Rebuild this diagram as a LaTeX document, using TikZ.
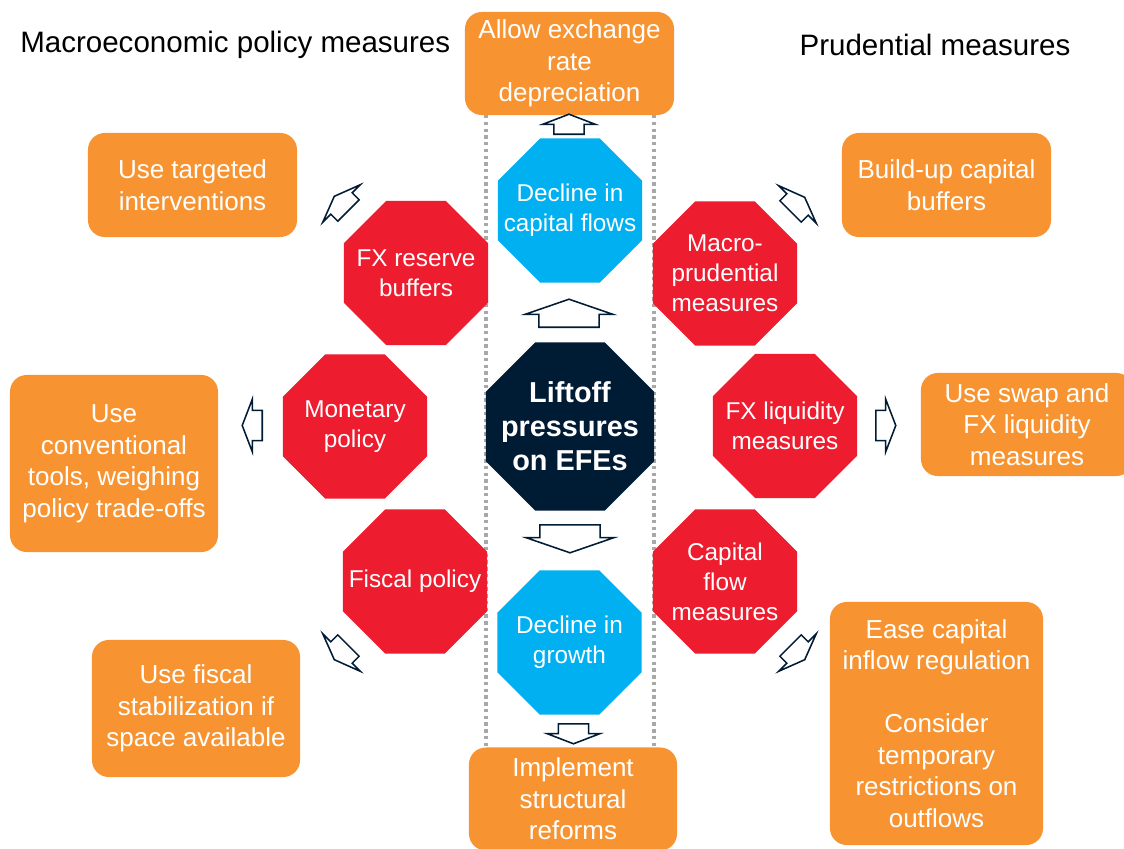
\documentclass[tikz,border=0pt]{standalone}
\usepackage{fontspec}
\setmainfont{Liberation Sans}
\usetikzlibrary{shapes.geometric,shapes.arrows}

\definecolor{imforange}{RGB}{247,148,49}
\definecolor{imfred}{RGB}{237,28,46}
\definecolor{imfblue}{RGB}{0,176,240}
\definecolor{imfnavy}{RGB}{0,27,52}
\definecolor{imfgray}{RGB}{168,168,168}

\newcommand{\boxfont}{\fontsize{18.5}{22.4}\selectfont}
\newcommand{\octfont}{\fontsize{17.3}{21.3}\selectfont}
\newcommand{\hubfont}{\fontsize{20.5}{24.2}\selectfont\bfseries}
\newcommand{\headfont}{\fontsize{21}{25}\selectfont}

\begin{document}
\begin{tikzpicture}[
  x=0.025cm, y=-0.025cm,
  octo/.style={regular polygon, regular polygon sides=8, minimum size=3.9cm,
               inner sep=0pt, outer sep=0pt},
  octlab/.style={text=white, align=center, inner sep=0pt, font=\octfont},
  redocto/.style={octo, fill=imfred},
  blueocto/.style={octo, fill=imfblue},
  actbox/.style={fill=imforange, rounded corners=0.42cm, text=white, align=center,
                 minimum width=5.2cm, minimum height=2.6cm, inner sep=0pt, font=\boxfont},
  arr/.style={single arrow, draw=imfnavy, fill=white, line width=1.1pt, anchor=tail,
              inner xsep=0pt, text height=0pt, text depth=0pt},
  smallarr/.style={arr, inner ysep=0.3125cm, minimum width=1.325cm,
                   minimum height=0.5cm, single arrow tip angle=138},
  bigarr/.style={arr, inner ysep=0.525cm, minimum width=2.2cm,
                 minimum height=0.7cm, single arrow tip angle=142},
  guide/.style={draw=imfgray, line width=2.4pt, dash pattern=on 2.4pt off 2.4pt}
]
  \path[use as bounding box, fill=white] (0,0) rectangle (1124,848);

  % dotted guides round the middle column
  \draw[guide] (486,115) -- (486,747);
  \draw[guide] (654,115) -- (654,747);

  % headings
  \node[anchor=west, inner sep=0pt, font=\headfont] (hmacro) at (20,45) {Macroeconomic policy measures};
  \node[inner sep=0pt, font=\headfont] (hprud) at (935,45) {Prudential measures};

  % centre column
  \node[octo, fill=imfnavy, minimum size=4.55cm,
        label={[octlab, font=\hubfont]center:{Liftoff\\pressures\\on EFEs}}] (hub) at (570,426.5) {};
  \node[blueocto, label={[octlab]center:{Decline in\\capital flows}}] (capfl) at (570,210.5) {};
  \node[blueocto, label={[octlab]center:{Decline in\\growth}}] (growth) at (569.5,642.5) {};

  % policy tools
  \foreach \nm/\x/\y/\txt in {fxres/416/273/{FX reserve\\buffers},
                              monet/355/426.5/{Monetary\\policy},
                              fisc/415/581.5/{Fiscal policy},
                              macro/725/273.5/{Macro-\\prudential\\measures},
                              fxliq/785/426/{FX liquidity\\measures},
                              cfm/725/581.5/{Capital\\flow\\measures}} {
    \node[redocto, label={[octlab]center:{\txt}}] (\nm) at (\x,\y) {};
  }

  % responses
  \node[actbox, minimum width=5.225cm, minimum height=2.575cm] (dep) at (569.5,63.5)
       {Allow exchange\\rate\\depreciation};
  \node[actbox, minimum width=5.225cm] (targ) at (192.5,185) {Use targeted\\interventions};
  \node[actbox, minimum width=5.225cm] (build) at (946.5,185) {Build-up capital\\buffers};
  \node[actbox, minimum height=4.425cm] (conv) at (114,463.5)
       {Use\\conventional\\tools, weighing\\policy trade-offs};
  \node[actbox, minimum width=5.3cm, minimum height=2.575cm] (swap) at (1027,424.5)
       {Use swap and\\FX liquidity\\measures};
  \node[actbox, minimum height=3.425cm] (fstab) at (196,708.5)
       {Use fiscal\\stabilization if\\space available};
  \node[actbox, minimum height=2.575cm] (impl) at (573,799)
       {Implement\\structural\\reforms};
  \node[actbox, minimum width=5.325cm, minimum height=6.075cm] (ease) at (936.5,723.5)
       {Ease capital\\inflow regulation\\[22.4pt]Consider\\temporary\\restrictions on\\outflows};

  % block arrows
  \node[bigarr, rotate=90] (uphub) at (569,328) {};
  \node[bigarr, rotate=-90] (dnhub) at (570,524) {};
  \foreach \nm/\x/\y/\ang in {updep/569/135/90, dnimpl/573.5/723/-90,
                              tomonet/263/425.5/180, tofxliq/875/425.5/0,
                              totarg/349/211/135, tobuild/790/212/45,
                              tofstab/349/645/225, toease/790/645/-45} {
    \node[smallarr, rotate=\ang] (\nm) at (\x,\y) {};
  }
\end{tikzpicture}
\end{document}
